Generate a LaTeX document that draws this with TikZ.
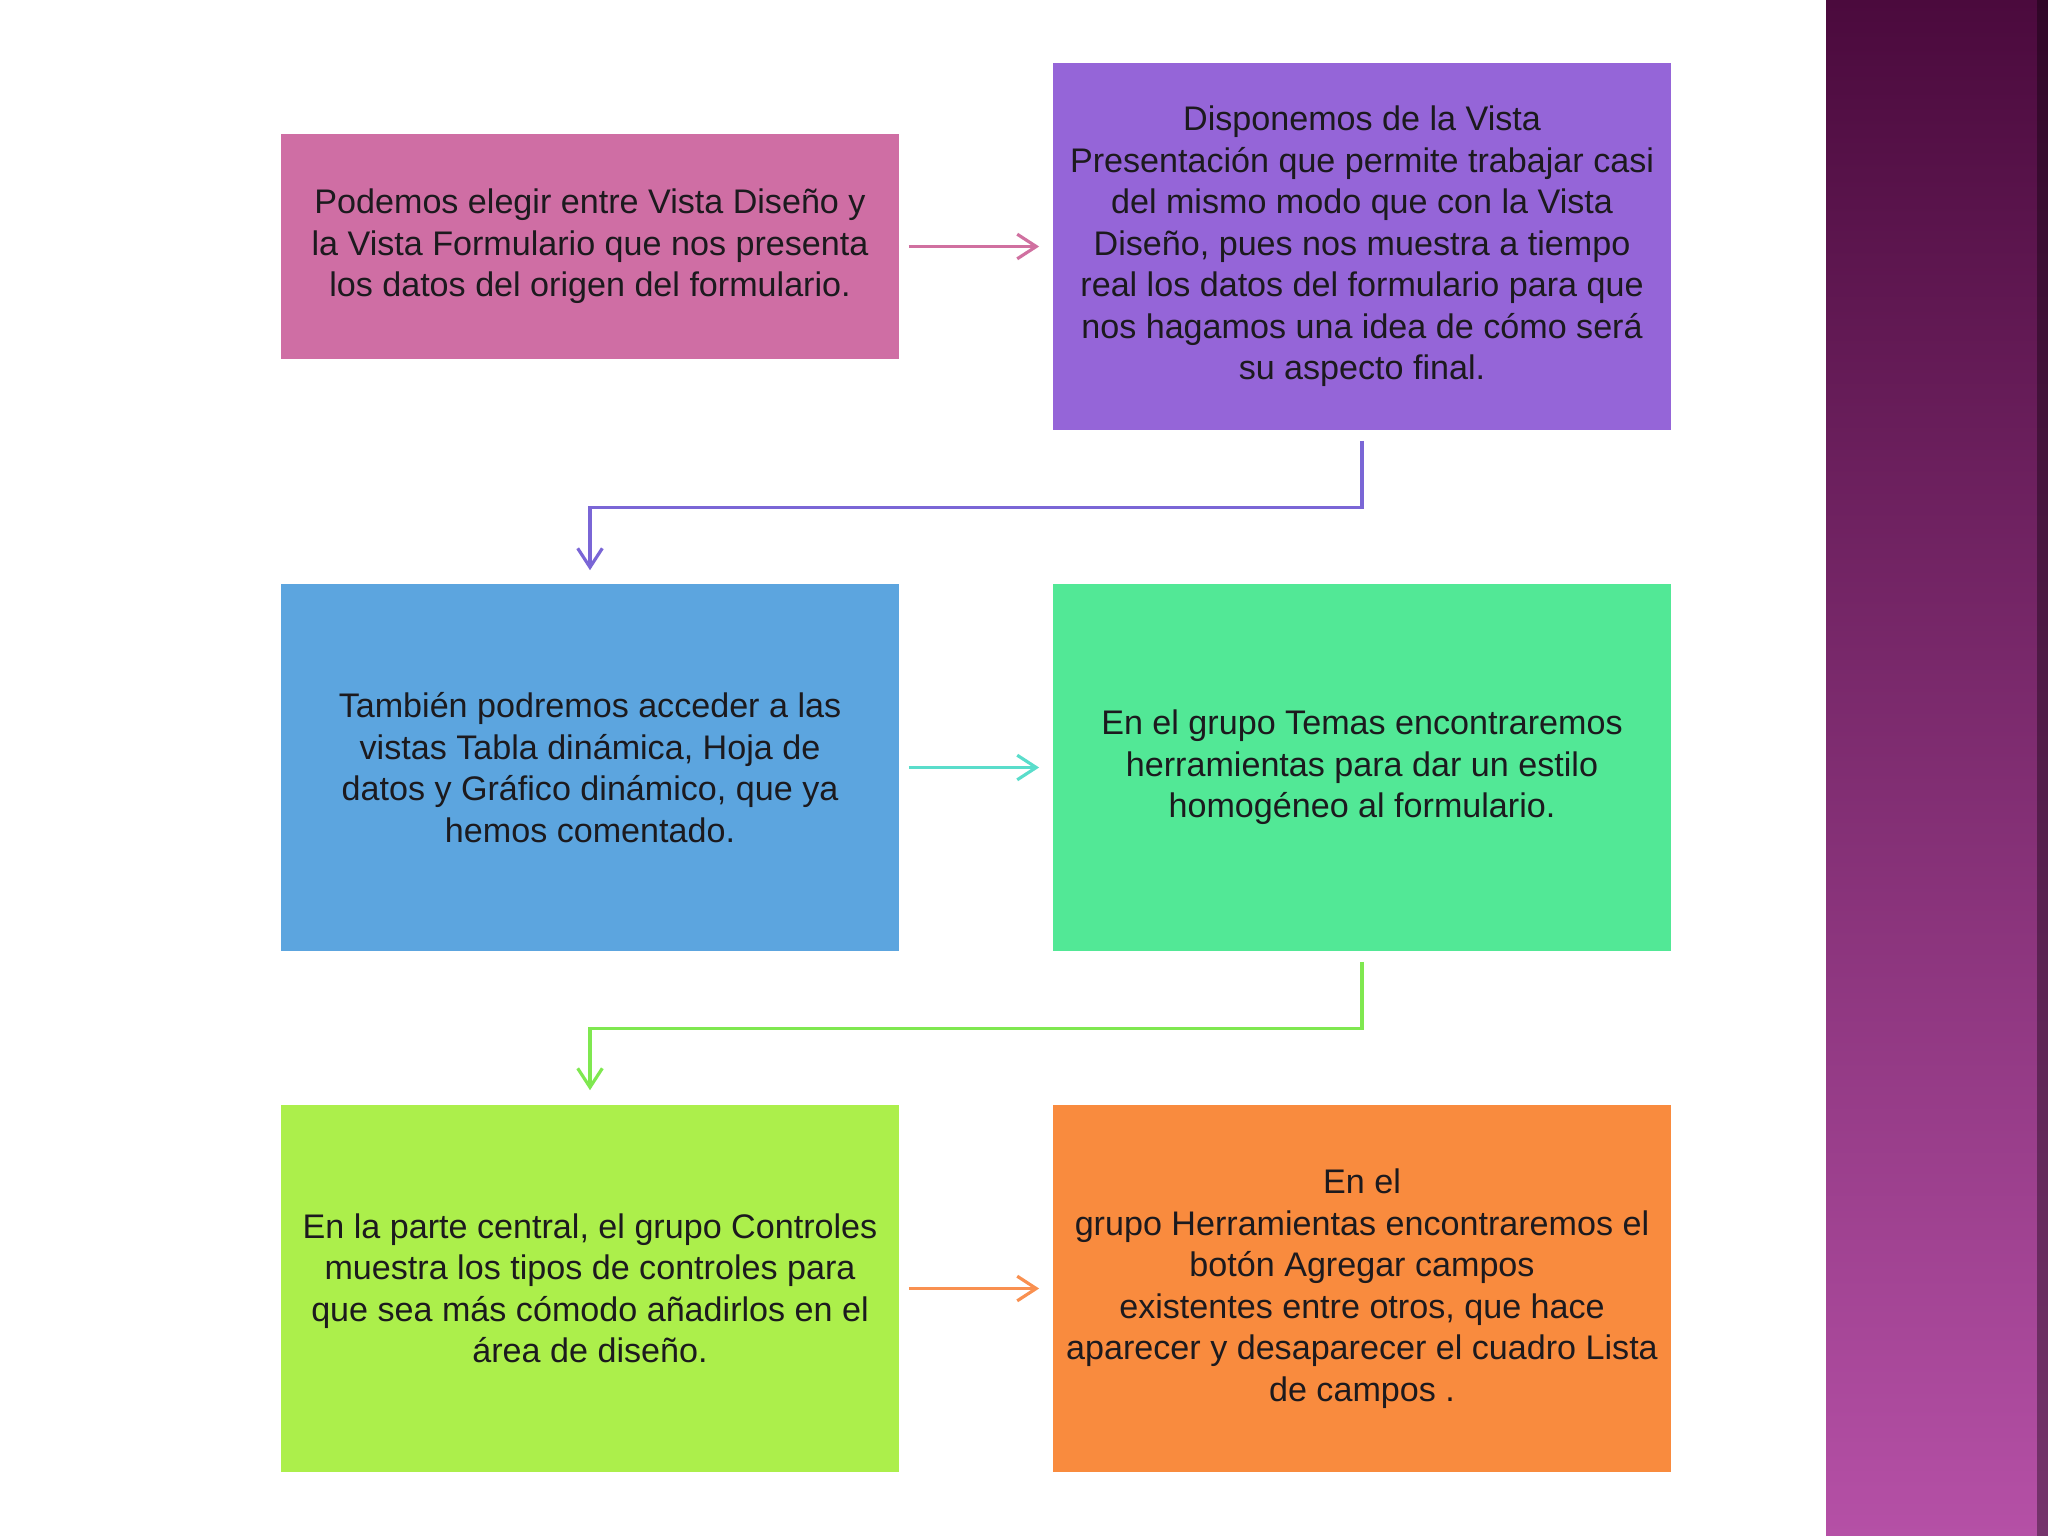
\documentclass[tikz,border=0pt]{standalone}
\usepackage{fontspec}
\setmainfont{Liberation Sans}
\usetikzlibrary{arrows.meta}
\definecolor{boxpink}{HTML}{CF6EA4}
\definecolor{boxpurple}{HTML}{9565D8}
\definecolor{boxblue}{HTML}{5CA5DF}
\definecolor{boxgreen}{HTML}{52E896}
\definecolor{boxlime}{HTML}{ACEF4B}
\definecolor{boxorange}{HTML}{F98B3E}
\definecolor{arrpink}{HTML}{D070A0}
\definecolor{arrpurple}{HTML}{7A66D6}
\definecolor{arrcyan}{HTML}{5ADDCB}
\definecolor{arrgreen}{HTML}{7FE850}
\definecolor{arrorange}{HTML}{F99050}
\definecolor{bandtop}{HTML}{4B0A3D}
\definecolor{bandmid}{HTML}{8A2F80}
\definecolor{bandbot}{HTML}{B550A6}
\definecolor{textc}{HTML}{1C1A1E}
\begin{document}
\begin{tikzpicture}[x=0.01cm,y=-0.01cm,
  card/.style={draw=none, inner sep=0pt, align=center, text=textc,
    minimum width=6.18cm, font=\fontsize{9.7}{11.8}\selectfont},
  shortcard/.style={card, minimum height=2.25cm},
  tallcard/.style={card, minimum height=3.67cm},
  link/.style={line width=0.9pt, -{Straight Barb[length=5.4pt,width=7pt,line width=0.9pt]}}
]
\useasboundingbox (0,0) rectangle (2048,1536);
\fill[white] (0,0) rectangle (2048,1536);
\shade[top color=bandtop, middle color=bandmid, bottom color=bandbot] (1826,0) rectangle (2048,1536);
\fill[black, opacity=0.35] (2037,0) rectangle (2048,1536);

\node[shortcard, fill=boxpink] (b1) at (590,246.5)
  {Podemos elegir entre Vista Diseño y\\la Vista Formulario que nos presenta\\los datos del origen del formulario.};
\node[tallcard, fill=boxpurple] (b2) at (1362,246.5)
  {Disponemos de la Vista\\Presentación que permite trabajar casi\\del mismo modo que con la Vista\\Diseño, pues nos muestra a tiempo\\real los datos del formulario para que\\nos hagamos una idea de cómo será\\su aspecto final.};
\node[tallcard, fill=boxblue] (b3) at (590,767.5)
  {También podremos acceder a las\\vistas Tabla dinámica, Hoja de\\datos y Gráfico dinámico, que ya\\hemos comentado.};
\node[tallcard, fill=boxgreen] (b4) at (1362,767.5)
  {En el grupo Temas encontraremos\\herramientas para dar un estilo\\homogéneo al formulario.};
\node[tallcard, fill=boxlime] (b5) at (590,1288.5)
  {En la parte central, el grupo Controles\\muestra los tipos de controles para\\que sea más cómodo añadirlos en el\\área de diseño.};
\node[tallcard, fill=boxorange] (b6) at (1362,1288.5)
  {En el\\grupo Herramientas encontraremos el\\botón Agregar campos\\existentes entre otros, que hace\\aparecer y desaparecer el cuadro Lista\\de campos .};

\draw[link, arrpink] ([xshift=0.09cm]b1.east) -- ([xshift=-0.13cm]b2.west);
\draw[link, arrpurple] ([yshift=-0.1cm]b2.south) -- ++(0,67) -| ([yshift=0.13cm]b3.north);
\draw[link, arrcyan] ([xshift=0.09cm]b3.east) -- ([xshift=-0.13cm]b4.west);
\draw[link, arrgreen] ([yshift=-0.1cm]b4.south) -- ++(0,67) -| ([yshift=0.14cm]b5.north);
\draw[link, arrorange] ([xshift=0.09cm]b5.east) -- ([xshift=-0.13cm]b6.west);
\end{tikzpicture}
\end{document}
